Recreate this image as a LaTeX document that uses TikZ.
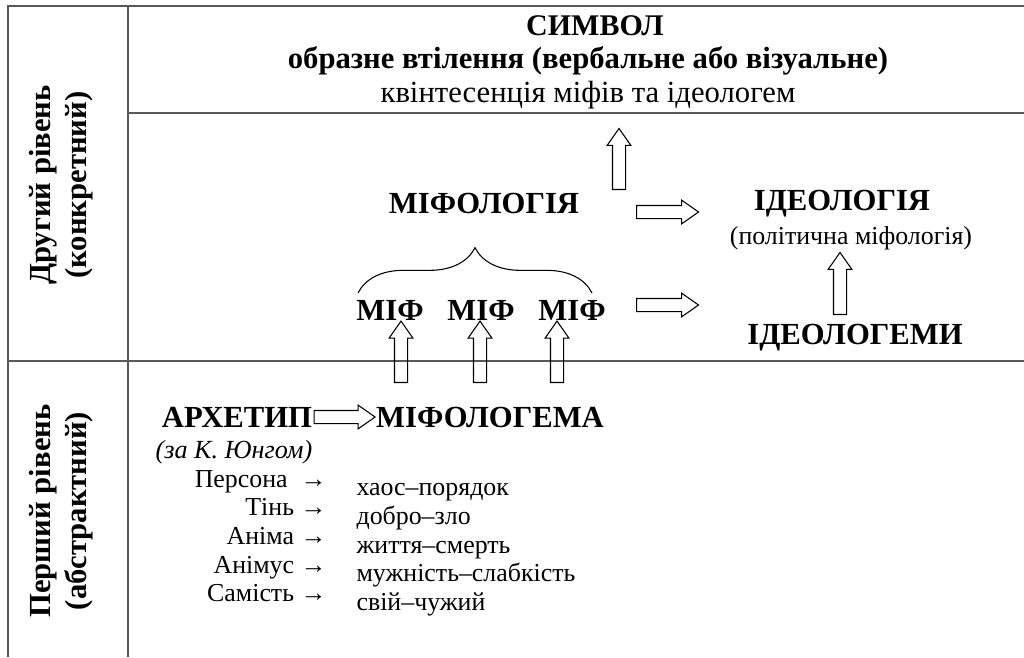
\documentclass[tikz,border=0pt]{standalone}
\usepackage{fontspec}
\setmainfont{Liberation Serif}
\usetikzlibrary{shapes.arrows,decorations.pathreplacing,calc}

% hollow block arrow from one point to another
\newcommand{\hollowarrow}[2]{%
  \path let \p1=($(#2)-(#1)$), \n1={atan2(\y1,\x1)}, \n2={veclen(\x1,\y1)} in
    (#1) node[hollow, rotate=\n1, minimum height=\n2] {};%
}

\begin{document}
\begin{tikzpicture}[x=0.75pt, y=-0.75pt,
        frame/.style={draw=black!65, line width=1.3pt},
        level/.style={rotate=90, align=center, inner sep=1pt, font=\bfseries\fontsize{23}{27}\selectfont},
        term/.style={inner sep=1pt, font=\bfseries\fontsize{23}{26}\selectfont},
        note/.style={inner sep=1pt, font=\fontsize{19.4}{21.5}\selectfont},
        hollow/.style={single arrow, draw, line width=0.8pt, anchor=tail, inner sep=0pt,
            text height=4.5pt, text depth=4.5pt,
            single arrow head extend=4pt, single arrow tip angle=70}
    ]
        \useasboundingbox (0,0) rectangle (1024,657);

        % Table frame
        \draw[frame] (1024,6) -- (8,6) -- (8,657);
        \draw[frame] (128,6) -- (128,657);
        \draw[frame] (128,113) -- (1024,113);
        \draw[frame] (8,361) -- (1024,361);

        % Levels
        \node[level] (second) at (61,185) {Другий рівень\\(конкретний)};
        \node[level] (first) at (61,511) {Перший рівень\\(абстрактний)};

        % Symbol
        \node[term, font=\bfseries\fontsize{22.5}{26}\selectfont] (symbol) at (595,26) {СИМВОЛ};
        \node[term] (embodiment) at (588,61)
            {образне втілення (вербальне або візуальне)};
        \node[inner sep=1pt, font=\fontsize{23}{26}\selectfont] (quint) at (588,95)
            {квінтесенція міфів та ідеологем};

        % Second level
        \node[term] (mythology) at (484,203) {МІФОЛОГІЯ};
        \node[term] (ideology) at (842,204) {ІДЕОЛОГІЯ};
        \node[note] (politmyth) at (851,238) {(політична міфологія)};
        \node[term] (ideologemes) at (855,338) {ІДЕОЛОГЕМИ};
        \node[term] (mif1) at (390,310) {МІФ};
        \node[term] (mif2) at (481,310) {МІФ};
        \node[term] (mif3) at (572,310) {МІФ};

        % First level
        \node[term] (archetype) at (237,417) {АРХЕТИП};
        \node[term] (mythogem) at (490,417) {МІФОЛОГЕМА};
        \node[note, font=\itshape\fontsize{19.6}{22}\selectfont] (jung) at (234,452) {(за К. Юнгом)};
        \node[note, anchor=east, align=right] (archetypes) at (328,536)
            {Персона\ \ →\\Тінь →\\Аніма →\\Анімус →\\Самість →};
        \node[note, anchor=west, align=left] (opposites) at (355,550)
            {хаос–порядок\\добро–зло\\життя–смерть\\мужність–слабкість\\свій–чужий};

        % Brace over the myths
        \draw[line width=0.8pt, decorate, decoration={brace, amplitude=34pt}] (358,293) -- (592,293);

        % Arrow ends
        \coordinate (symfoot) at (619,190);
        \coordinate (symtip) at (619,129);
        \coordinate (mtoi_s) at (636,212);
        \coordinate (mtoi_e) at (698,212);
        \coordinate (mtog_s) at (636,305);
        \coordinate (mtog_e) at (698,305);
        \coordinate (gtoi_s) at (840,315);
        \coordinate (gtoi_e) at (840,253);
        \coordinate (up1) at (401,383);
        \coordinate (up2) at (480,383);
        \coordinate (up3) at (557,383);

        % Connections
        \hollowarrow{symfoot}{symtip}
        \hollowarrow{mtoi_s}{mtoi_e}
        \hollowarrow{mtog_s}{mtog_e}
        \hollowarrow{gtoi_s}{gtoi_e}
        \hollowarrow{up1}{up1 |- mif1.south}
        \hollowarrow{up2}{up2 |- mif2.south}
        \hollowarrow{up3}{up3 |- mif3.south}
        \hollowarrow{archetype.east}{mythogem.west}

    \end{tikzpicture}
\end{document}
